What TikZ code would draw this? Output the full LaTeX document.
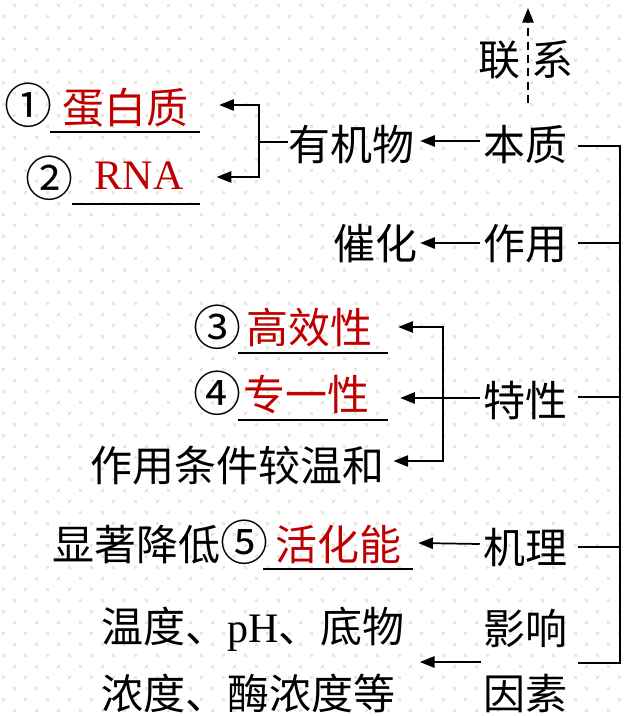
\documentclass[tikz,border=0pt]{standalone}
\usepackage{fontspec}
\setmainfont{Noto Sans CJK SC}
\newfontfamily\lat{Liberation Serif}
\usetikzlibrary{arrows.meta,calc}
\definecolor{ans}{RGB}{192,0,0}
\definecolor{dotc}{RGB}{232,232,212}
\begin{document}
\begin{tikzpicture}[x=0.75pt,y=-0.75pt,
  t/.style={inner sep=0pt, font=\fontsize{31.5}{38}\selectfont, text height=27.7pt, text depth=3.8pt},
  circ/.style={t, font=\fontsize{36}{40}\selectfont},
  a/.style={t, text=ans},
  alat/.style={a, font=\fontsize{31.5}{38}\selectfont\lat},
  ln/.style={line width=1.3pt},
  arr/.style={ln, -{Triangle[length=11pt,width=8.5pt]}},
  barr/.style={ln, {Triangle[length=11pt,width=8.5pt]}-{Triangle[length=11pt,width=8.5pt]}},
  uline/.style={line width=1.3pt},
]
\useasboundingbox (0,0) rectangle (626,716);
\fill[white] (0,0) rectangle (626,716);
% dotted background grid
\foreach \j in {0,...,64}{
  \pgfmathtruncatemacro\off{14-11*mod(\j,2)}
  \foreach \i in {0,...,28}{
    \fill[dotc] ({\off+22*\i-1.5},{6+11*\j-1.5}) rectangle ++(3,3);
  }
}
% right column
\node[t] (lian) at (499,60) {联};
\node[t] (xi) at (552,60) {系};
\node[t] (benzhi) at (525,145) {本质};
\node[t] (zuoyong) at (525,244) {作用};
\node[t] (texing) at (525,401) {特性};
\node[t] (jili) at (525,548) {机理};
\node[t] (yx) at (525,629) {影响};
\node[t] (ys) at (525,694) {因素};
% middle / left
\node[t] (yjw) at (351,145) {有机物};
\node[circ] (c1) at (28,108) {①};
\node[a] (ans1) at (125,108) {蛋白质};
\node[circ] (c2) at (50,181) {②};
\node[alat] (ans2) at (139,174) {RNA};
\node[t] (cuihua) at (375,244) {催化};
\node[circ] (c3) at (217,330) {③};
\node[a] (ans3) at (309,328) {高效性};
\node[circ] (c4) at (217,396) {④};
\node[a] (ans4) at (306,395) {专一性};
\node[t,anchor=west] (wenhe) at (90,466) {作用条件较温和};
\node[t,anchor=west] (xianzhu) at (52,545) {显著降低{\fontsize{36}{40}\selectfont ⑤}};
\node[a] (ans5) at (338,545) {活化能};
\node[t,anchor=west] (f1) at (101,627) {温度、{\lat pH}、底物};
\node[t,anchor=west] (f2) at (101,694) {浓度、酶浓度等};
% underlines
\draw[uline] (50,132) -- (200,132);
\draw[uline] (72,204) -- (200,204);
\draw[uline] (238,353) -- (388,353);
\draw[uline] (238,420) -- (388,420);
\draw[uline] (263,569) -- (413,569);
% dashed link arrow
\coordinate (dbot) at (528,103);
\coordinate (dtop) at (528,8);
\draw[arr, dash pattern=on 6pt off 4pt] (dbot) -- (dtop);
% spine
\coordinate (s1) at (620,146);
\coordinate (s2) at (620,243);
\coordinate (s3) at (620,397);
\coordinate (s4) at (620,547);
\coordinate (s5) at (620,663);
\draw[ln] ($(benzhi.east)+(11,1)$) -- (s1) -- (s5) -- ($(ys.east)+(11,-31)$);
\draw[ln] ($(zuoyong.east)+(11,-1)$) -- (s2);
\draw[ln] ($(texing.east)+(11,-4)$) -- (s3);
\draw[ln] ($(jili.east)+(11,-1)$) -- (s4);
% left arrows
\draw[arr] ($(benzhi.west)+(-3,-4)$) -- ($(yjw.east)+(6,-4)$);
\draw[arr] ($(zuoyong.west)+(-3,-1)$) -- ($(cuihua.east)+(3,-1)$);
\draw[arr] ($(texing.west)+(-3,-3)$) -- ($(ans4.east)+(31,3)$);
\draw[arr] ($(jili.west)+(-3,-4)$) -- ($(ans5.east)+(17,-2)$);
\draw[arr] ($(yx.west)+(-2,33)$) -- ($(f1.east)+(15,35)$);
% bracket to protein / RNA
\coordinate (b1) at (259,142);
\draw[ln] (yjw.west |- b1) -- (b1);
\draw[barr] ($(ans1.east)+(31,-3)$) -- (259,105) -- (259,177) -- ($(ans2.east)+(33,3)$);
% bracket for properties
\draw[barr] ($(ans3.east)+(26,-1)$) -- (443,327) -- (443,461) -- ($(wenhe.east)+(9,-5)$);
\end{tikzpicture}
\end{document}
